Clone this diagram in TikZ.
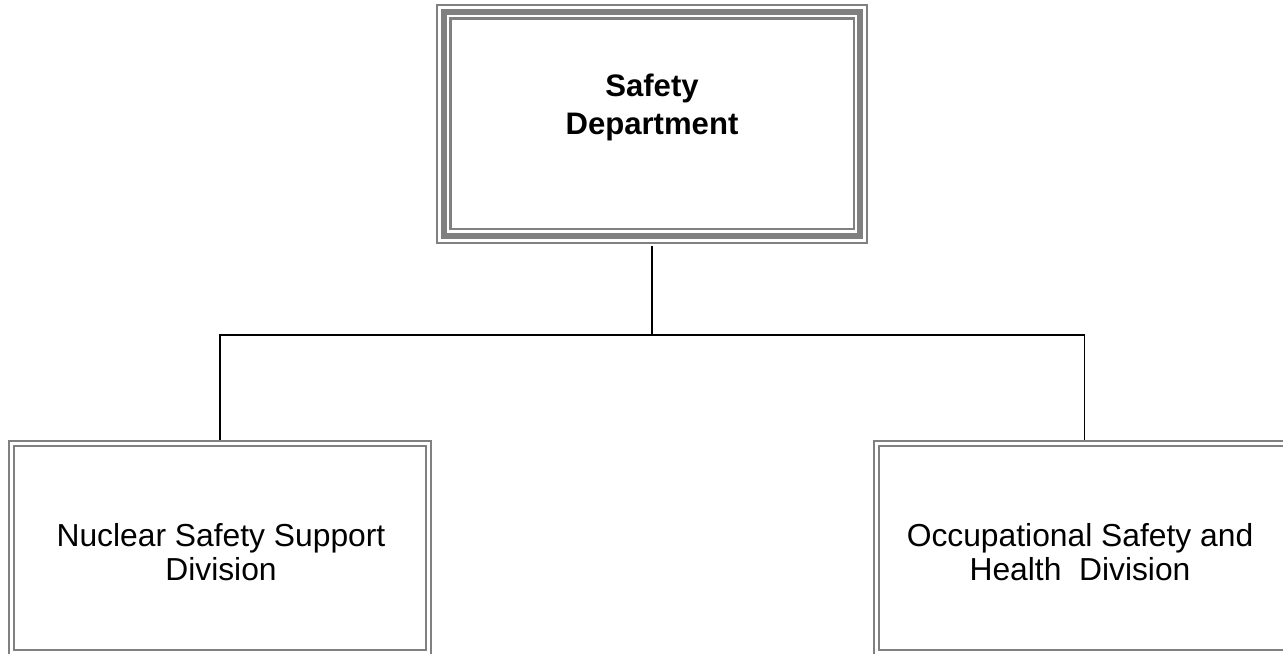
\documentclass[tikz,border=0pt]{standalone}
\usepackage{fontspec}
\setmainfont{Liberation Sans}
\begin{document}
\begin{tikzpicture}[x=0.02cm, y=-0.02cm,
  topbox/.style={draw=gray, line width=3.4pt, inner sep=0pt,
    minimum width=8.335cm, minimum height=4.485cm,
    preaction={draw=gray, line width=1.25pt, double=white, double distance=6.4pt}},
  divbox/.style={draw=gray, line width=1.1pt, double=white, double distance=1.6pt,
    inner sep=0pt, minimum width=8.33cm, minimum height=4.175cm},
  boxtext/.style={align=center, inner sep=0pt, font=\fontsize{18.1}{19.4}\selectfont},
  link/.style={draw=black, line width=1.1pt}]
\clip (0,0) rectangle (1283,653);
\useasboundingbox (0,0) rectangle (1283,653);

\node[topbox] (dept) at (652.1,123.9) {};
\node[divbox] (nuc) at (220,547.9) {};
\node[divbox] (occ) at (1084.5,547.9) {};

\node[boxtext, font=\fontsize{17.7}{21.6}\selectfont\bfseries] (dept text) at (652,107) {Safety\\Department};
\node[boxtext] (nuc text) at (221,551.7) {Nuclear Safety Support\\Division};
\node[boxtext] (occ text) at (1080,551.7) {Occupational Safety and\\Health\ \ Division};

\draw[link] ([shift={(0,7)}]dept.south) -- ++(0,89) coordinate (fork);
\draw[link] ([shift={(0,-3)}]nuc.north) |- (fork) -| ([shift={(0,-3)}]occ.north);
\end{tikzpicture}
\end{document}
